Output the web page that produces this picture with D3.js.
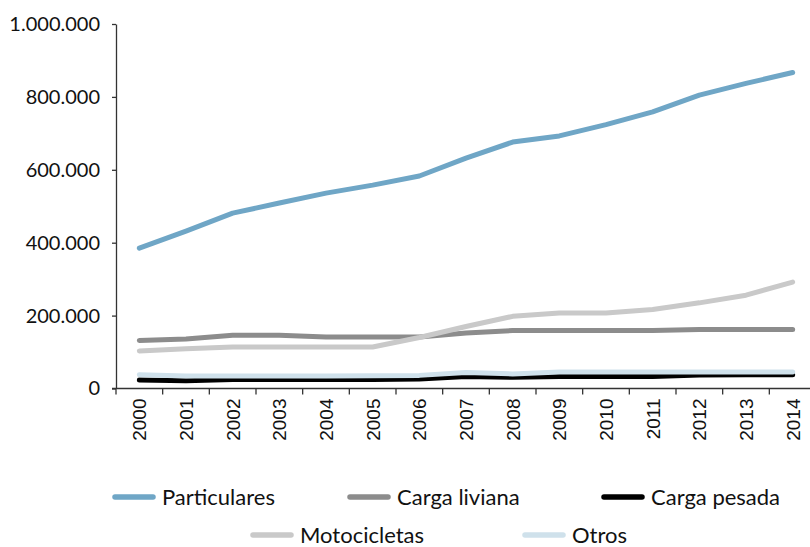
<!DOCTYPE html>
<html>
<head>
<meta charset="utf-8">
<script src="https://cdn.jsdelivr.net/npm/d3@7"></script>
<style>
  body { margin: 0; background: #fff; }
  svg { display: block; }
  .axis path, .axis line { stroke: #333; stroke-width: 1.3; }
  .y-axis text { font-family: Lato, "Noto Sans", sans-serif; font-size: 20px; fill: #111; }
  .x-axis text { font-family: "Liberation Sans", Arial, sans-serif; font-size: 19px; fill: #111; }
  .legend text { font-family: Lato, "Noto Sans", sans-serif; font-size: 22px; fill: #111; }
</style>
</head>
<body>
<svg width="810" height="547"></svg>
<script>
// años y series (vehículos)
var years = ["2000","2001","2002","2003","2004","2005","2006","2007","2008","2009","2010","2011","2012","2013","2014"];
var particulares = [385000, 432000, 481000, 509000, 536000, 558000, 583000, 632000, 676000, 693000, 724000, 759000, 805000, 837000, 867000];
var cargaLiviana = [132000, 136000, 146000, 146000, 141000, 141000, 141000, 152000, 159000, 159000, 159000, 159000, 162000, 162000, 162000];
var cargaPesada = [23000, 21000, 25000, 25000, 25000, 25000, 26000, 33000, 31000, 33000, 33000, 33000, 37000, 38000, 38000];
var motocicletas = [103000, 109000, 114000, 114000, 114000, 114000, 140000, 170000, 198000, 207000, 207000, 217000, 235000, 256000, 292000];
var otros = [38000, 34000, 34000, 34000, 34000, 35000, 36000, 44000, 40000, 45000, 45000, 45000, 45000, 45000, 45000];
var yTicks = [0, 200000, 400000, 600000, 800000, 1000000];

var series = [
    {name: "Particulares", values: particulares, color: "#6fa6c6"},
    {name: "Carga liviana", values: cargaLiviana, color: "#8c8c8c"},
    {name: "Carga pesada", values: cargaPesada, color: "#000000"},
    {name: "Motocicletas", values: motocicletas, color: "#c9c9c9"},
    {name: "Otros", values: otros, color: "#cfe1eb"}
];

var svg = d3.select("svg");
var plotLeft = 116, plotRight = 816, plotTop = 24, plotBottom = 388.5;

var x = d3.scaleBand().domain(years).range([plotLeft, plotRight]);
var y = d3.scaleLinear().domain([0, 1000000]).range([plotBottom, plotTop]);

var fmt = function (v) {
    return d3.format(",")(v).replace(/,/g, ".");
};

// eje y
svg.append("g")
    .attr("class", "axis y-axis")
    .attr("transform", "translate(" + plotLeft + ",0)")
    .call(d3.axisLeft(y).tickValues(yTicks).tickFormat(fmt).tickSize(4).tickSizeOuter(0).tickPadding(12));

// eje x, con marcas entre categorías
var xAxis = svg.append("g")
    .attr("class", "axis x-axis")
    .attr("transform", "translate(0," + plotBottom + ")");
xAxis.append("line")
    .attr("x1", plotLeft - 4).attr("x2", plotRight)
    .attr("y1", 0).attr("y2", 0);
xAxis.selectAll(".tk")
    .data(years.concat(["end"]))
    .enter().append("line")
    .attr("class", "tk")
    .attr("x1", function (d, i) { return plotLeft + i * x.step(); })
    .attr("x2", function (d, i) { return plotLeft + i * x.step(); })
    .attr("y1", 0).attr("y2", 6);
xAxis.selectAll("text")
    .data(years)
    .enter().append("text")
    .attr("transform", function (d) {
        return "translate(" + (x(d) + x.bandwidth() / 2) + ",10) rotate(-90)";
    })
    .attr("dy", "0.36em")
    .style("text-anchor", "end")
    .text(function (d) { return d; });

// líneas
var line = d3.line()
    .x(function (d, i) { return x(years[i]) + x.bandwidth() / 2; })
    .y(function (d) { return y(d); });

svg.selectAll(".serie")
    .data(series)
    .enter().append("path")
    .attr("class", "serie")
    .attr("fill", "none")
    .attr("stroke", function (d) { return d.color; })
    .attr("stroke-width", 5)
    .attr("stroke-linecap", "round")
    .attr("stroke-linejoin", "round")
    .attr("d", function (d) { return line(d.values); });

// leyenda
var legendPos = [
    {x: 113, y: 497}, {x: 348, y: 497}, {x: 602, y: 497},
    {x: 251, y: 535}, {x: 523, y: 535}
];
var legend = svg.selectAll(".legend")
    .data(series)
    .enter().append("g")
    .attr("class", "legend")
    .attr("transform", function (d, i) {
        return "translate(" + legendPos[i].x + "," + legendPos[i].y + ")";
    });
legend.append("line")
    .attr("x1", 2).attr("x2", 40)
    .attr("stroke", function (d) { return d.color; })
    .attr("stroke-width", 5.5)
    .attr("stroke-linecap", "round");
legend.append("text")
    .attr("x", 49)
    .attr("dy", "0.35em")
    .text(function (d) { return d.name; });
</script>
</body>
</html>
